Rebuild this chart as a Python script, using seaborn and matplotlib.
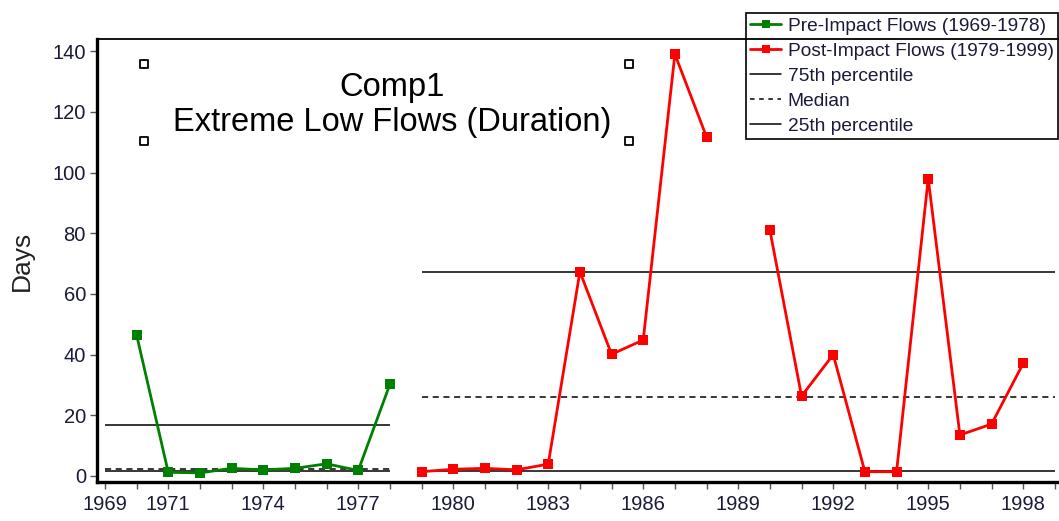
import numpy as np
import pandas as pd
import matplotlib
matplotlib.use("Agg")
import matplotlib.pyplot as plt
from matplotlib.lines import Line2D
import seaborn as sns

# --- data ---
pre_years = [1970, 1971, 1972, 1973, 1974, 1975, 1976, 1977, 1978]
pre_days = [46.5, 1.2, 1.0, 2.5, 2.0, 2.5, 4.0, 1.8, 30.2]

post_years = [1979, 1980, 1981, 1982, 1983, 1984, 1985, 1986, 1987, 1988,
              1990, 1991, 1992, 1993, 1994, 1995, 1996, 1997, 1998]
post_days = [1.4, 2.2, 2.5, 2.0, 3.9, 67.3, 40.1, 44.8, 139.0, 111.7,
             81.0, 26.3, 40.0, 1.4, 1.4, 98.0, 13.5, 17.1, 37.1]
# 1989 missing -> separate line pieces
post_piece = [0] * 10 + [1] * 9

pre_pct = {"p75": 16.8, "med": 2.2, "p25": 1.6}
pre_span = (1969, 1978)
post_pct = {"p75": 67.3, "med": 26.0, "p25": 1.6}
post_span = (1979, 1999)

# little open squares (range markers)
box_x = [1970.23, 1970.23, 1985.55, 1985.55]
box_y = [135.7, 110.4, 135.7, 110.4]

label_years = [1969, 1971, 1974, 1977, 1980, 1983, 1986, 1989, 1992, 1995, 1998]
GREEN = "#008000"
RED = "#ff0000"
TXT = "#1a1a3a"

sns.set_style("white")
plt.rcParams["font.family"] = ["Liberation Sans", "DejaVu Sans"]

pre = pd.DataFrame({"Year": pre_years, "Days": pre_days, "piece": 0})
post = pd.DataFrame({"Year": post_years, "Days": post_days, "piece": post_piece})

fig = plt.figure(figsize=(10.59, 5.21), dpi=100)
ax = fig.add_axes([97 / 1059, 1 - 482 / 521, 1 - 97 / 1059, (482 - 39) / 521])

sns.lineplot(ax=ax, data=pre, x="Year", y="Days", units="piece", estimator=None,
             color=GREEN, lw=2.0, marker="s", markersize=7, markeredgewidth=0, zorder=3)
sns.lineplot(ax=ax, data=post, x="Year", y="Days", units="piece", estimator=None,
             color=RED, lw=2.0, marker="s", markersize=7, markeredgewidth=0, zorder=3)

for pct, span in [(pre_pct, pre_span), (post_pct, post_span)]:
    ax.hlines(pct["p75"], *span, color="black", lw=1.1, zorder=2)
    ax.hlines(pct["med"], *span, color="black", lw=1.1, linestyles=(0, (4, 3)), zorder=2)
    ax.hlines(pct["p25"], *span, color="black", lw=1.1, zorder=2)

sns.scatterplot(ax=ax, x=box_x, y=box_y, marker="s", s=36, facecolor="white",
                edgecolor="black", linewidth=1.3, zorder=4)

ax.set_xlim(1968.75, 1999.13)
ax.set_ylim(-2, 144)
ax.set_xticks(range(1969, 2000))
ax.set_xticklabels([str(y) if y in label_years else "" for y in range(1969, 2000)])
ax.set_yticks(range(0, 141, 20))
ax.tick_params(axis="both", direction="out", length=5, width=1, color="#555555",
               labelsize=14.5, labelcolor=TXT, pad=3)
ax.tick_params(axis="x", bottom=True, pad=4)
ax.tick_params(axis="y", left=True)

ax.set_xlabel("")
ax.set_ylabel("Days", fontsize=19, color="#222222")
ax.yaxis.set_label_coords(-0.066, 0.5)

ax.spines["right"].set_visible(False)
ax.spines["left"].set_linewidth(2.4)
ax.spines["bottom"].set_linewidth(2.4)
ax.spines["top"].set_linewidth(1.3)
for s in ax.spines.values():
    s.set_color("black")
ax.spines["top"].set_zorder(6)

fig.text(392 / 1059, 1 - 105 / 521, "Comp1\nExtreme Low Flows (Duration)",
         ha="center", va="center", fontsize=23.5, color="black", linespacing=1.2)

handles = [
    Line2D([], [], color=GREEN, lw=2, marker="s", markersize=6, markeredgewidth=0),
    Line2D([], [], color=RED, lw=2, marker="s", markersize=6, markeredgewidth=0),
    Line2D([], [], color="black", lw=1.1),
    Line2D([], [], color="black", lw=1.1, ls=(0, (3, 3))),
    Line2D([], [], color="black", lw=1.1),
]
labels = ["Pre-Impact Flows (1969-1978)", "Post-Impact Flows (1979-1999)",
          "75th percentile", "Median", "25th percentile"]
leg = ax.legend(handles, labels, loc="upper right",
                bbox_to_anchor=(1058 / 1059, 1 - 13 / 521), bbox_transform=fig.transFigure,
                borderaxespad=0, fontsize=13.8, frameon=True, fancybox=False, framealpha=1,
                edgecolor="black", borderpad=0.22, labelspacing=0.4, handlelength=1.6,
                handletextpad=0.35, labelcolor=TXT)
leg.get_frame().set_linewidth(1.2)
leg.set_zorder(2)

fig.savefig("out.png", dpi=100)
